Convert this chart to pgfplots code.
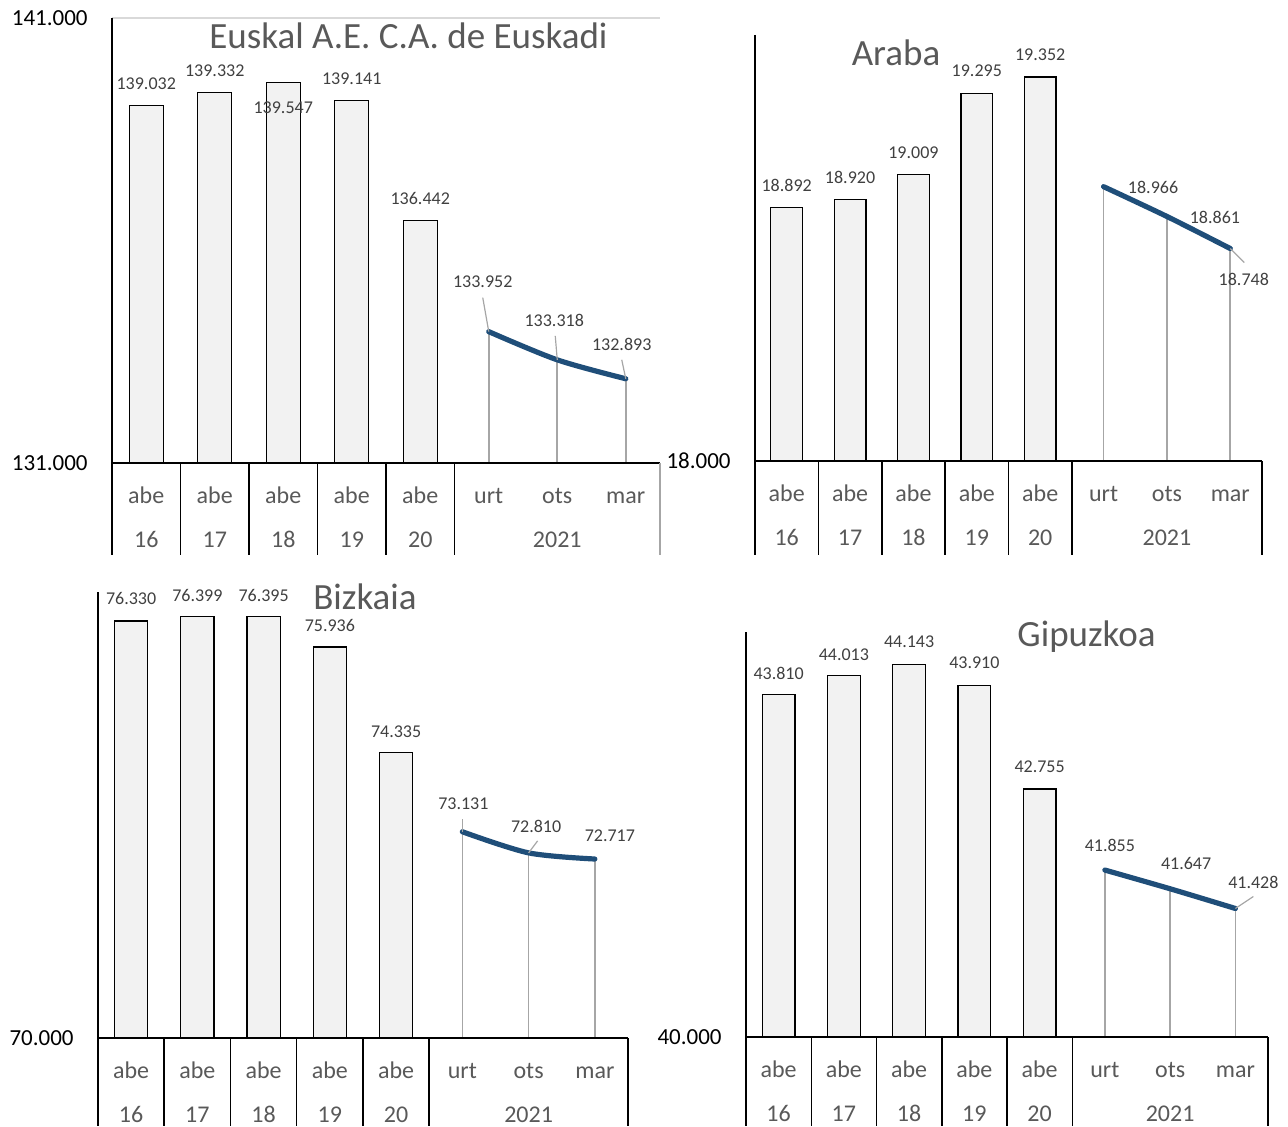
\documentclass[border=0pt]{standalone}
\usepackage{fontspec}
\setmainfont{Carlito}
\usepackage{pgfplots}
\pgfplotsset{compat=1.18}

\definecolor{barfill}{HTML}{F2F2F2}
\definecolor{lineblue}{HTML}{1F4E79}
\definecolor{dropgray}{HTML}{A6A6A6}
\definecolor{labgray}{HTML}{404040}
\definecolor{catgray}{HTML}{595959}

\pgfkeys{/pgf/number format/.cd, fixed, zerofill, precision=3, 1000 sep={}, assume math mode=true}

\pgfplotsset{
  panel/.style={
    scale only axis, anchor=south west,
    xmin=-0.5, xmax=7.5,
    axis line style={draw=none},
    xtick=\empty, scaled y ticks=false,
    major tick length=0pt,
    yticklabel style={font=\fontsize{11.5}{12}\selectfont, anchor=east, inner sep=0pt, xshift=-12pt},
    yticklabel={\pgfmathprintnumber{\tick}},
    clip mode=individual,
  },
  bars/.style={ybar, bar width=0.5, fill=barfill, draw=black, line width=0.6pt},
  drops/.style={ycomb, dropgray, line width=0.85pt},
  trend/.style={lineblue, line width=2.6pt, smooth, line cap=round},
}
\tikzset{
  dlab/.style={font=\fontsize{9}{10}\selectfont, text=labgray, inner sep=0pt},
  catlab/.style={font=\fontsize{12}{13}\selectfont, text=catgray, anchor=base, inner sep=0pt},
  ttl/.style={font=\fontsize{18.5}{20}\selectfont, text=catgray, anchor=base, inner sep=0pt},
}

% y axis line, category table below the axis
\newcommand\cattable[4]{% #1 ymin, #2 ymax, #3 depth, #4 right edge colour
  \draw[line width=0.9pt] (axis cs:-0.5,#2) -- (axis cs:-0.5,#1) -- ++(0pt,-#3);
  \draw[line width=0.9pt] (axis cs:-0.5,#1) -- (axis cs:7.5,#1);
  \foreach \x in {0.5,1.5,2.5,3.5,4.5}{\draw[line width=0.75pt] (axis cs:\x,#1) -- ++(0pt,-#3);}
  \draw[#4, line width=0.75pt] (axis cs:7.5,#1) -- ++(0pt,-#3);
  \foreach \x/\t in {0/abe,1/abe,2/abe,3/abe,4/abe,5/urt,6/ots,7/mar}{\node[catlab] at ([yshift=-20pt]axis cs:\x,#1) {\t};}
  \foreach \x/\t in {0/16,1/17,2/18,3/19,4/20,6/2021}{\node[catlab] at ([yshift=-42pt]axis cs:\x,#1) {\t};}
}
\newcommand\lab[4]{\node[dlab, xshift=#3, yshift=#4] at (axis cs:#1,#2) {\pgfmathprintnumber{#2}};}
\newcommand\lead[4]{\draw[dropgray, line width=0.6pt] (axis cs:#1,#2) -- ++(#3,#4);}

\begin{document}
\begin{tikzpicture}
\path[use as bounding box] (0,0) rectangle (644pt,563pt);

% Euskal A.E.
\begin{axis}[panel, at={(56pt,331.5pt)}, width=274pt, height=222.5pt,
  ymin=131, ymax=141, ytick={131,141}]
\addplot[bars] coordinates {(0,139.032) (1,139.332) (2,139.547) (3,139.141) (4,136.442)};
\addplot[drops] coordinates {(5,133.952) (6,133.318) (7,132.893)};
\addplot[trend] coordinates {(5,133.952) (6,133.318) (7,132.893)};
\pgfplotsextra{
  \draw[black!15, line width=0.8pt] (axis cs:-0.5,141) -- (axis cs:7.5,141);
  \cattable{131}{141}{46pt}{dropgray}
  \lab{0}{139.032}{0pt}{11pt}
  \lab{1}{139.332}{0pt}{10.5pt}
  \lab{2}{139.547}{0pt}{-12.5pt}
  \lab{3}{139.141}{0pt}{11pt}
  \lab{4}{136.442}{0pt}{11pt}
  \lead{5}{133.952}{-3pt}{17pt}
  \lead{6}{133.318}{-1pt}{12pt}
  \lead{7}{132.893}{-2pt}{9.5pt}
  \lab{5}{133.952}{-3pt}{25pt}
  \lab{6}{133.318}{-1.5pt}{19.5pt}
  \lab{7}{132.893}{-2pt}{17pt}
}
\end{axis}

% Araba
\begin{axis}[panel, at={(377.5pt,332.5pt)}, width=253.5pt, height=213pt,
  ymin=18, ymax=19.5, ytick={18}]
\addplot[bars] coordinates {(0,18.892) (1,18.920) (2,19.009) (3,19.295) (4,19.352)};
\addplot[drops] coordinates {(5,18.966) (6,18.861) (7,18.748)};
\addplot[trend] coordinates {(5,18.966) (6,18.861) (7,18.748)};
\pgfplotsextra{
  \cattable{18}{19.5}{47pt}{black}
  \lab{0}{18.892}{0pt}{11pt}
  \lab{1}{18.920}{0pt}{11pt}
  \lab{2}{19.009}{0pt}{11pt}
  \lab{3}{19.295}{0pt}{11pt}
  \lab{4}{19.352}{0pt}{11pt}
  \lead{7}{18.748}{7pt}{-7pt}
  \lab{5}{18.966}{24.75pt}{-0.5pt}
  \lab{6}{18.861}{24pt}{-0.5pt}
  \lab{7}{18.748}{6.75pt}{-15.5pt}
}
\end{axis}

% Bizkaia
\begin{axis}[panel, at={(49pt,44pt)}, width=265pt, height=223pt,
  ymin=70, ymax=76.77, ytick={70}]
\addplot[bars] coordinates {(0,76.330) (1,76.399) (2,76.395) (3,75.936) (4,74.335)};
\addplot[drops] coordinates {(5,73.131) (6,72.810) (7,72.717)};
\addplot[trend] coordinates {(5,73.131) (6,72.810) (7,72.717)};
\pgfplotsextra{
  \cattable{70}{76.77}{44pt}{black}
  \lab{0}{76.330}{0pt}{11.5pt}
  \lab{1}{76.399}{0pt}{10.5pt}
  \lab{2}{76.395}{0pt}{10.5pt}
  \lab{3}{75.936}{0pt}{10.5pt}
  \lab{4}{74.335}{0pt}{10.5pt}
  \lead{5}{73.131}{0pt}{6.5pt}
  \lead{6}{72.810}{4.5pt}{6pt}
  \lab{5}{73.131}{0.5pt}{14pt}
  \lab{6}{72.810}{3.75pt}{13pt}
  \lab{7}{72.717}{7.5pt}{11.5pt}
}
\end{axis}

% Gipuzkoa
\begin{axis}[panel, at={(373pt,44.5pt)}, width=261pt, height=202.5pt,
  ymin=40, ymax=44.5, ytick={40}]
\addplot[bars] coordinates {(0,43.810) (1,44.013) (2,44.143) (3,43.910) (4,42.755)};
\addplot[drops] coordinates {(5,41.855) (6,41.647) (7,41.428)};
\addplot[trend] coordinates {(5,41.855) (6,41.647) (7,41.428)};
\pgfplotsextra{
  \cattable{40}{44.5}{44.5pt}{black}
  \lab{0}{43.810}{0pt}{10.5pt}
  \lab{1}{44.013}{0pt}{10.5pt}
  \lab{2}{44.143}{0pt}{11pt}
  \lab{3}{43.910}{0pt}{11pt}
  \lab{4}{42.755}{0pt}{11pt}
  \lead{7}{41.428}{9pt}{6pt}
  \lab{5}{41.855}{2.5pt}{12.5pt}
  \lab{6}{41.647}{8pt}{12.5pt}
  \lab{7}{41.428}{9pt}{13pt}
}
\end{axis}

\node[ttl] at (204.25pt,538.5pt) {Euskal A.E. C.A. de Euskadi};
\node[ttl] at (448pt,530pt) {Araba};
\node[ttl] at (182.5pt,258.5pt) {Bizkaia};
\node[ttl] at (543.25pt,240pt) {Gipuzkoa};
\end{tikzpicture}
\end{document}
